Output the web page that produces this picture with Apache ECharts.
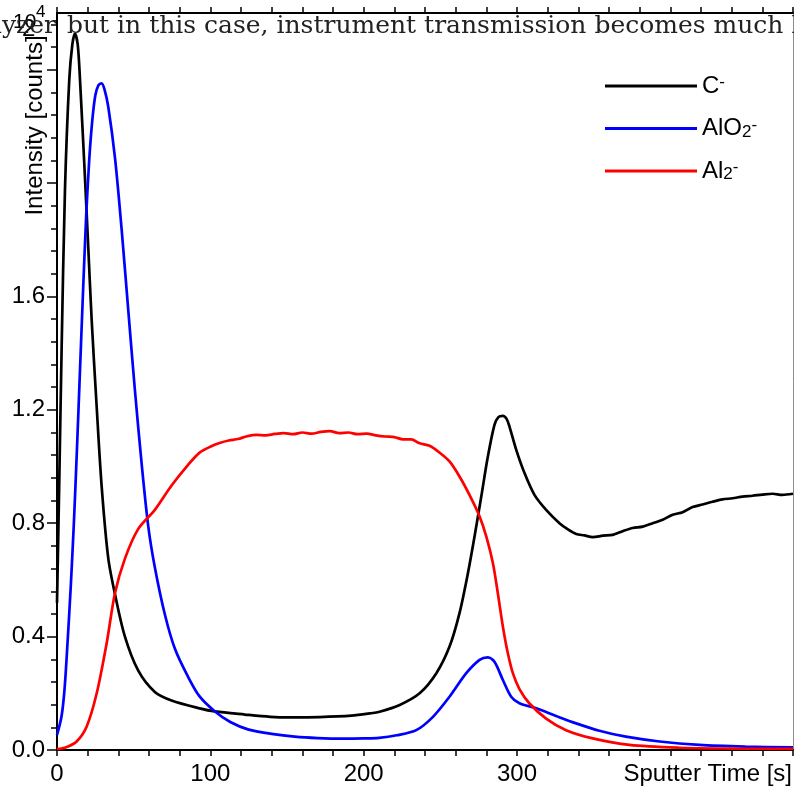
<!DOCTYPE html>
<html>
<head>
<meta charset="utf-8">
<script src="https://cdn.jsdelivr.net/npm/echarts@6/dist/echarts.min.js"></script>
<style>
  html, body { margin: 0; padding: 0; background: #fff; }
  #chart { width: 794px; height: 788px; }
</style>
</head>
<body>
<div id="chart"></div>
<script>
// Sputter depth profile: intensity (x10^4 counts) against sputter time (s)

const timeC = [0, 1.5, 3, 5.2, 8, 10, 11.7, 13.5, 15, 18.2, 20.4, 22.6, 25.8, 29.1, 33.4, 37.8, 44.3, 53, 63.8, 74.7, 93, 103, 122.5, 139, 152.4, 171, 192, 204, 210.4, 223.5, 236.5, 247.4, 256, 262.5, 268, 272.3, 276.7, 281, 285.3, 288, 290.8, 293.2, 295.1, 299.5, 304.9, 311.4, 319, 327.7, 333, 338.6, 344, 349.4, 356, 362.4, 369, 375.4, 382, 388.5, 395, 401.5, 408, 414.5, 421, 427.6, 434, 440.6, 447, 453.6, 460, 466.7, 473, 480];
const countsC = [0.519, 0.953, 1.412, 1.977, 2.365, 2.489, 2.527, 2.489, 2.365, 2.023, 1.772, 1.518, 1.218, 0.932, 0.678, 0.55, 0.40, 0.28, 0.205, 0.175, 0.147, 0.136, 0.125, 0.117, 0.115, 0.116, 0.121, 0.129, 0.135, 0.159, 0.2, 0.271, 0.365, 0.483, 0.624, 0.753, 0.894, 1.035, 1.147, 1.175, 1.179, 1.168, 1.141, 1.059, 0.977, 0.9, 0.847, 0.8, 0.779, 0.762, 0.757, 0.751, 0.756, 0.759, 0.772, 0.783, 0.788, 0.8, 0.812, 0.83, 0.839, 0.857, 0.866, 0.876, 0.884, 0.888, 0.894, 0.897, 0.901, 0.904, 0.9, 0.904];

const timeAlO2 = [0, 3, 5, 7, 9, 11, 13, 15, 17, 19, 21, 23, 25, 27, 29.1, 31, 33.4, 37.8, 42.1, 46.5, 50.8, 55.2, 59.5, 63.8, 70.4, 76.9, 85.5, 93, 103, 113, 125, 140, 155, 170, 187, 200, 210, 221.5, 234.3, 245.2, 256, 266.9, 275.6, 281, 285.3, 290.8, 296.2, 301.6, 312.5, 325.5, 338.6, 353.7, 371, 393, 419, 449, 480];
const countsAlO2 = [0.053, 0.12, 0.22, 0.39, 0.58, 0.8, 1.06, 1.34, 1.62, 1.88, 2.08, 2.22, 2.31, 2.345, 2.352, 2.33, 2.27, 2.09, 1.84, 1.55, 1.27, 1.01, 0.79, 0.645, 0.477, 0.357, 0.258, 0.189, 0.136, 0.099, 0.072, 0.057, 0.047, 0.042, 0.04, 0.041, 0.043, 0.052, 0.07, 0.117, 0.188, 0.271, 0.318, 0.327, 0.311, 0.247, 0.188, 0.165, 0.147, 0.12, 0.094, 0.068, 0.047, 0.03, 0.018, 0.012, 0.009];

const timeAl2 = [0, 6, 12.8, 19.3, 25.9, 32.4, 37.8, 44.3, 53, 63.8, 74.7, 85.5, 93, 100, 106, 112, 118, 124, 130, 136, 142, 148, 154, 160, 166, 172, 178, 184, 190, 196, 202, 208, 214, 220, 225.6, 231, 236.5, 243, 249.5, 256, 262.5, 269, 275.6, 280, 284.3, 287.5, 290.8, 294, 297.3, 301.6, 308, 319, 332, 349.4, 373.3, 406, 440, 480];
const countsAl2 = [0.003, 0.01, 0.03, 0.082, 0.2, 0.377, 0.553, 0.675, 0.78, 0.847, 0.933, 1.006, 1.049, 1.07, 1.083, 1.092, 1.097, 1.107, 1.112, 1.11, 1.115, 1.118, 1.114, 1.12, 1.116, 1.122, 1.125, 1.118, 1.12, 1.114, 1.116, 1.11, 1.106, 1.104, 1.096, 1.096, 1.082, 1.073, 1.049, 1.018, 0.965, 0.9, 0.824, 0.753, 0.659, 0.553, 0.435, 0.342, 0.271, 0.215, 0.165, 0.111, 0.07, 0.041, 0.018, 0.008, 0.005, 0.004];

const seriesNames = ['C-', 'AlO2-', 'Al2-'];
const seriesColors = ['#000000', '#0000ff', '#ff0000'];
const xTickLabels = [0, 100, 200, 300];
const yTickLabels = [0, 0.4, 0.8, 1.2, 1.6];
const yMajorTicks = [0, 0.4, 0.8, 1.2, 1.6, 2.0, 2.4];

const pairs = (t, v) => t.map((x, i) => [x, v[i]]);
const SANS = '"Liberation Sans", Arial, Helvetica, sans-serif';
const SERIF = '"DejaVu Serif", "Liberation Serif", serif';

const legendRich = {
  'C-': 'C{sup|-}',
  'AlO2-': 'AlO{sub|2}{sup|-}',
  'Al2-': 'Al{sub|2}{sup|-}'
};

const chart = echarts.init(document.getElementById('chart'), null, { renderer: 'canvas' });

const lineSeries = (name, data, color) => ({
  name: name,
  type: 'line',
  data: data,
  color: color,
  showSymbol: false,
  symbol: 'none',
  smooth: 0.3,
  lineStyle: { color: color, width: 2.7 },
  xAxisIndex: 0,
  yAxisIndex: 0,
  z: 3
});

chart.setOption({
  animation: false,
  backgroundColor: '#ffffff',
  grid: { left: 57, right: 1, top: 13, bottom: 38, containLabel: false, outerBoundsMode: 'none' },
  xAxis: [
    {
      type: 'value', position: 'bottom', min: 0, max: 480, interval: 20,
      axisLine: { show: true, onZero: false, lineStyle: { color: '#000', width: 2 } },
      axisTick: { show: true, inside: false, length: 6, lineStyle: { color: '#000', width: 1.5 } },
      axisLabel: {
        show: true, margin: 12, color: '#000', fontSize: 24, fontFamily: SANS,
        customValues: xTickLabels,
        formatter: v => (xTickLabels.indexOf(v) >= 0 ? String(v) : '')
      },
      splitLine: { show: false }
    },
    {
      type: 'value', position: 'top', min: 0, max: 480, interval: 20,
      axisLine: { show: true, onZero: false, lineStyle: { color: '#000', width: 2 } },
      axisTick: { show: true, inside: false, length: 6, lineStyle: { color: '#000', width: 1.5 } },
      axisLabel: { show: false },
      splitLine: { show: false }
    }
  ],
  yAxis: [
    {
      type: 'value', position: 'left', min: 0, max: 2.6, interval: 0.4,
      axisLine: { show: true, onZero: false, lineStyle: { color: '#000', width: 2 } },
      axisTick: { show: true, inside: false, length: 10, customValues: yMajorTicks, lineStyle: { color: '#000', width: 1.5 } },
      minorTick: { show: true, splitNumber: 5, length: 6, lineStyle: { color: '#000', width: 1.5 } },
      axisLabel: {
        show: true, margin: 12, color: '#000', fontSize: 24, fontFamily: SANS,
        customValues: yTickLabels,
        formatter: v => (v <= 1.7 ? v.toFixed(1) : '')
      },
      splitLine: { show: false },
      minorSplitLine: { show: false }
    },
    {
      type: 'value', position: 'right', min: 0, max: 2.6,
      axisLine: { show: true, onZero: false, lineStyle: { color: '#8c8c8c', width: 1 } },
      axisTick: { show: false },
      axisLabel: { show: false },
      splitLine: { show: false }
    }
  ],
  legend: {
    show: true,
    orient: 'vertical',
    left: 605,
    top: 74,
    padding: 0,
    icon: 'rect',
    itemWidth: 92,
    itemHeight: 3,
    itemGap: 18.5,
    data: seriesNames,
    formatter: name => legendRich[name],
    textStyle: {
      color: '#000', fontSize: 24, fontFamily: SANS, lineHeight: 24,
      rich: {
        sub: { fontSize: 17, fontFamily: SANS, color: '#000', verticalAlign: 'bottom', lineHeight: 20 },
        sup: { fontSize: 17, fontFamily: SANS, color: '#000', verticalAlign: 'top', lineHeight: 20 }
      }
    }
  },
  series: [
    lineSeries(seriesNames[0], pairs(timeC, countsC), seriesColors[0]),
    lineSeries(seriesNames[1], pairs(timeAlO2, countsAlO2), seriesColors[1]),
    lineSeries(seriesNames[2], pairs(timeAl2, countsAl2), seriesColors[2])
  ],
  graphic: [
    {
      type: 'text', x: 35, y: 125.5, rotation: Math.PI / 2, z: 50,
      style: { text: 'Intensity [counts]', x: 0, y: 0, align: 'center', verticalAlign: 'middle', font: '24px ' + SANS, fill: '#000' }
    },
    {
      type: 'text', x: 792, y: 774, z: 50,
      style: { text: 'Sputter Time [s]', x: 0, y: 0, align: 'right', verticalAlign: 'middle', font: '24px ' + SANS, fill: '#000' }
    },
    {
      type: 'text', x: 13, y: 22, z: 50,
      style: { text: '10', x: 0, y: 0, align: 'left', verticalAlign: 'middle', font: '21px ' + SANS, fill: '#000' }
    },
    {
      type: 'text', x: 36, y: 12, z: 50,
      style: { text: '4', x: 0, y: 0, align: 'left', verticalAlign: 'middle', font: '17px ' + SANS, fill: '#000' }
    },
    {
      type: 'text', x: 22, y: 29.5, z: 50,
      style: { text: '2', x: 0, y: 0, align: 'left', verticalAlign: 'middle', font: '24px ' + SANS, fill: '#000' }
    },
    {
      type: 'text', x: 56, y: 26.5, z: 60,
      style: { text: 'analyzer', x: 0, y: 0, align: 'right', verticalAlign: 'middle', font: '25px ' + SERIF, fill: '#222' }
    },
    {
      type: 'text', x: 67, y: 26.5, z: 60,
      style: { text: 'but in this case, instrument transmission becomes much lower', x: 0, y: 0, align: 'left', verticalAlign: 'middle', font: '25px ' + SERIF, fill: '#222' }
    }
  ]
});
</script>
</body>
</html>
